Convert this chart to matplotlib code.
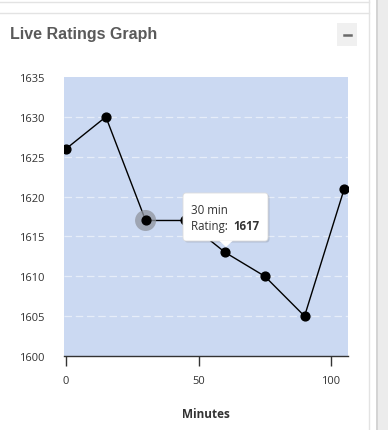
import matplotlib
matplotlib.use("Agg")
import matplotlib.pyplot as plt
from matplotlib.patches import FancyBboxPatch, Rectangle, Polygon
from matplotlib.lines import Line2D

minutes = [0, 15, 30, 45, 60, 75, 90, 105]
ratings = [1626, 1630, 1617, 1617, 1613, 1610, 1605, 1621]
yticks = [1600, 1605, 1610, 1615, 1620, 1625, 1630, 1635]
xticks = [0, 50, 100]
hover_index = 2

W, H = 388, 431
plt.rcParams['font.family'] = ['Open Sans', 'DejaVu Sans']
fig = plt.figure(figsize=(W / 100, H / 100), dpi=100)
fig.patch.set_facecolor('white')

def fx(px):
    return px / W

def fy(py):
    return 1 - py / H

# panel decorations
fig.add_artist(Line2D([0, fx(369)], [fy(3), fy(3)], color='#e3e3e3', lw=1))
fig.add_artist(Line2D([0, fx(369)], [fy(14), fy(14)], color='#e3e3e3', lw=1))
fig.add_artist(Line2D([fx(369), fx(369)], [fy(0), fy(431)], color='#e3e3e3', lw=1))
fig.add_artist(Rectangle((fx(376), 0), fx(12), 1, transform=fig.transFigure,
                         facecolor='#ececec', edgecolor='none'))
fig.add_artist(Rectangle((fx(376), 0), fx(2), 1, transform=fig.transFigure,
                         facecolor='#d4d4d4', edgecolor='none'))
fig.text(fx(10), fy(34), 'Live Ratings Graph', fontsize=11.5, fontweight='bold',
         color='#5a5a5a', va='center', ha='left', family=['Liberation Sans', 'DejaVu Sans'])
fig.add_artist(Rectangle((fx(337), fy(47)), fx(20), fy(24) - fy(47), transform=fig.transFigure,
                         facecolor='#f0f0f0', edgecolor='none'))
fig.add_artist(Line2D([fx(343.5), fx(350.5)], [fy(35.5), fy(35.5)], color='#6a6a6a', lw=1.8))

left, right, top, bottom = 64, 348, 78, 357
ax = fig.add_axes([fx(left), fy(bottom), fx(right - left), fy(top) - fy(bottom)])
ax.set_facecolor('#cbd9f2')
ax.set_xlim(-0.8, 106.4)
ax.set_ylim(1600, 1635)
ax.set_yticks(yticks)
ax.set_xticks(xticks)
for s in ['top', 'right', 'left']:
    ax.spines[s].set_visible(False)
ax.spines['bottom'].set_color('#333333')
ax.spines['bottom'].set_linewidth(1)
ax.tick_params(axis='y', length=0, pad=14, labelsize=8, labelcolor='#333333')
ax.tick_params(axis='x', length=7, width=1, color='#333333', pad=7, labelsize=8,
               labelcolor='#333333')
for yv in yticks[1:-1]:
    ax.axhline(yv, color='#e6edf9', lw=0.9, ls=(0, (6, 3)), zorder=1)
ax.set_xlabel('Minutes', fontsize=8.5, fontweight='bold', color='#333333', labelpad=15)

ax.plot(minutes, ratings, color='black', lw=1, zorder=3)
ax.scatter([minutes[hover_index]], [ratings[hover_index]], s=230, color='#8f949e',
           alpha=0.75, zorder=3, edgecolors='none')
ax.scatter(minutes, ratings, s=40, color='black', zorder=4)

# tooltip
tx0, ty0, tx1, ty1 = 183, 194, 268, 242
shadow = FancyBboxPatch((fx(tx0 + 1.5), fy(ty1 + 1.5)), fx(tx1 - tx0), fy(ty0) - fy(ty1),
                        boxstyle='round,pad=0,rounding_size=0.008', transform=fig.transFigure,
                        facecolor='#000000', alpha=0.12, edgecolor='none', zorder=5)
fig.add_artist(shadow)
box = FancyBboxPatch((fx(tx0), fy(ty1)), fx(tx1 - tx0), fy(ty0) - fy(ty1),
                     boxstyle='round,pad=0,rounding_size=0.008', transform=fig.transFigure,
                     facecolor='white', edgecolor='#dddddd', lw=0.6, zorder=6)
fig.add_artist(box)
fig.add_artist(Polygon([[fx(219), fy(241.5)], [fx(233), fy(241.5)], [fx(226), fy(248)]],
                       closed=True, transform=fig.transFigure, facecolor='white',
                       edgecolor='none', zorder=7))
fig.text(fx(191), fy(211), f'{minutes[hover_index]} min', fontsize=8.3, color='#333333',
         va='center', ha='left', zorder=8)
fig.text(fx(191), fy(227), 'Rating: ', fontsize=8.3, color='#333333',
         va='center', ha='left', zorder=8)
fig.text(fx(233), fy(227), f'{ratings[hover_index]}', fontsize=8.3, color='#333333',
         fontweight='bold', va='center', ha='left', zorder=8)

fig.savefig('out.png', dpi=100, facecolor='white')
